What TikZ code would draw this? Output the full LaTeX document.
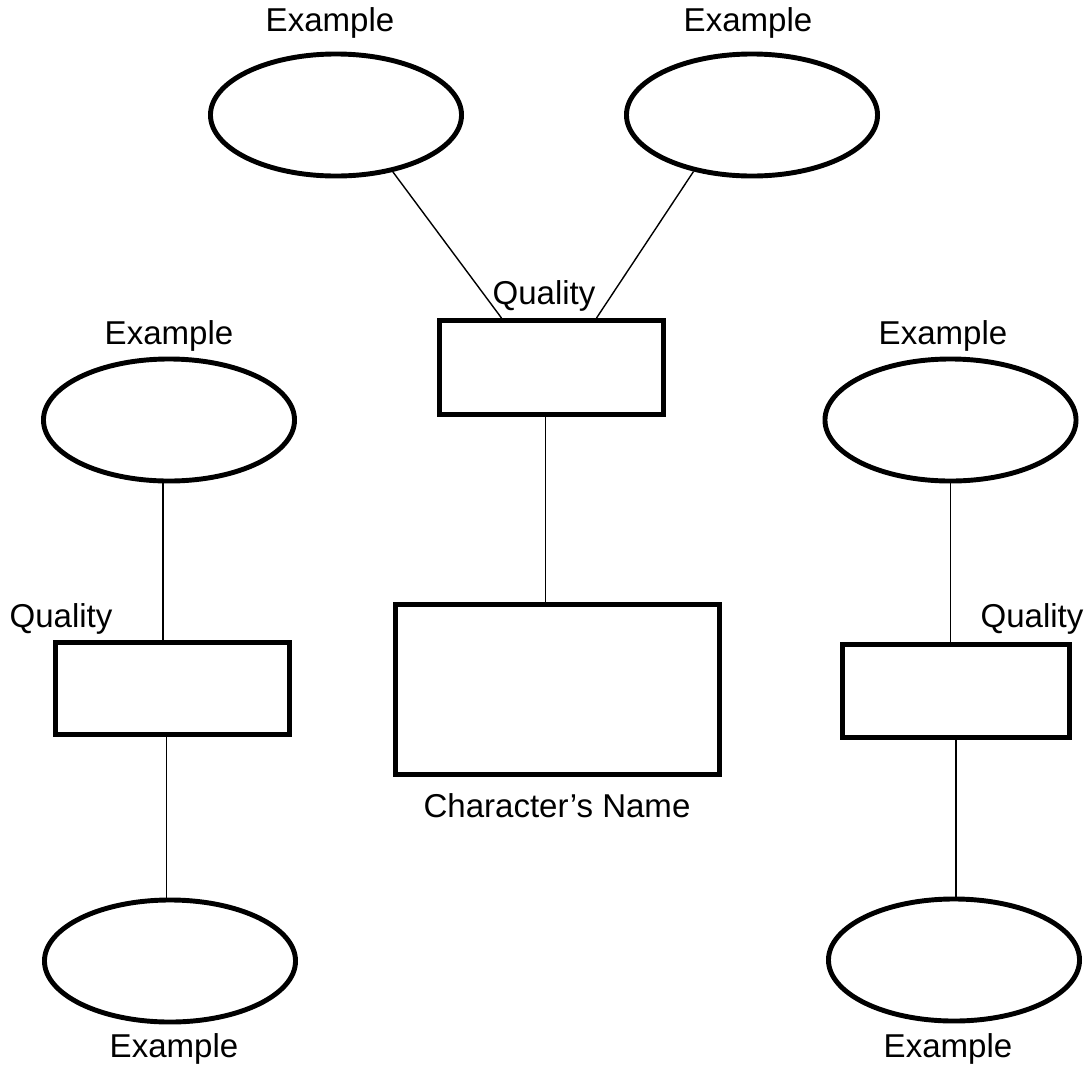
\documentclass[tikz,border=0pt]{standalone}
\usepackage{fontspec}
\setmainfont{Liberation Sans}
\usetikzlibrary{positioning,calc,shapes}

\begin{document}
\begin{tikzpicture}[x=0.025cm,y=-0.025cm,
		ell/.style={draw,ellipse,line width=3.5pt,inner sep=0pt,minimum width=6.275cm,minimum height=3.05cm},
		box/.style={draw,rectangle,line width=3.5pt,inner sep=0pt},
		lbl/.style={font=\fontsize{23.5}{28}\selectfont,inner sep=0pt,anchor=base},
		conn/.style={line width=1pt}]
		\useasboundingbox (0,0) rectangle (1086,1067);
		% ovals
		\node[ell] (exTL) at (336,115) {};
		\node[ell] (exTR) at (752,115) {};
		\node[ell] (exL) at (169,420) {};
		\node[ell] (exR) at (950.5,420) {};
		\node[ell] (exLB) at (170,961) {};
		\node[ell] (exRB) at (954,960) {};
		% boxes
		\node[box,minimum width=5.6cm,minimum height=2.35cm] (qtop) at (551.5,367.5) {};
		\node[box,minimum width=5.85cm,minimum height=2.3cm] (qL) at (172.5,688.5) {};
		\node[box,minimum width=5.675cm,minimum height=2.325cm] (qR) at (956,691) {};
		\node[box,minimum width=8.1cm,minimum height=4.25cm] (name) at (557.5,689.5) {};
		% texts
		\node[lbl] (tTL) at (330,31) {Example};
		\node[lbl] (tTR) at (748,31) {Example};
		\node[lbl] (tQtop) at (544,304) {Quality};
		\node[lbl] (tL) at (169,344) {Example};
		\node[lbl] (tQL) at (61,627) {Quality};
		\node[lbl] (tR) at (943,344) {Example};
		\node[lbl] (tQR) at (1032,627) {Quality};
		\node[lbl] (tName) at (557,817) {Character’s Name};
		\node[lbl] (tLB) at (174,1057) {Example};
		\node[lbl] (tRB) at (948,1057) {Example};
		% line ends
		\coordinate (cM) at ($(qtop.south)+(-6,0)$);
		\coordinate (cL) at ($(exL.south)+(-6,0)$);
		\coordinate (cLB) at ($(qL.south)+(-6,0)$);
		% lines
		\draw[conn] (exTL.-45) -- ($(qtop.north)+(-50,0)$);
		\draw[conn] (exTR.-136) -- ($(qtop.north)+(45,0)$);
		\draw[conn] (cM) -- (cM |- name.north);
		\draw[conn] (cL) -- (cL |- qL.north);
		\draw[conn] (cLB) -- (cLB |- exLB.north);
		\draw[conn] (exR.south) -- (exR.south |- qR.north);
		\draw[conn] (qR.south) -- (qR.south |- exRB.north);
	\end{tikzpicture}
\end{document}
